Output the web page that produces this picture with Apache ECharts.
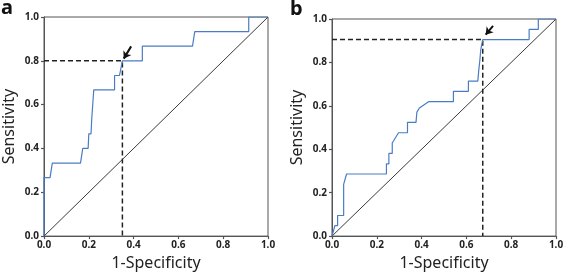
<!DOCTYPE html>
<html>
<head>
<meta charset="utf-8">
<script src="https://cdn.jsdelivr.net/npm/echarts@6/dist/echarts.min.js"></script>
<style>
  html, body { margin: 0; padding: 0; background: #fff; }
  #chart { width: 567px; height: 276px; }
</style>
</head>
<body>
<div id="chart"></div>
<script>
var chart = echarts.init(document.getElementById('chart'))

// ROC curve a: [1-specificity, sensitivity]
var rocA = [
  [0, 0], [0, 0.267], [0.027, 0.267], [0.037, 0.333], [0.163, 0.333], [0.173, 0.4],
  [0.197, 0.4], [0.2, 0.467], [0.21, 0.467], [0.213, 0.533], [0.218, 0.533],
  [0.222, 0.667], [0.315, 0.667], [0.315, 0.733], [0.337, 0.733], [0.35, 0.8],
  [0.439, 0.8], [0.439, 0.867], [0.663, 0.867], [0.673, 0.933], [0.914, 0.933],
  [0.914, 1], [1, 1]
]
// ROC curve b
var rocB = [
  [0, 0], [0.013, 0.048], [0.025, 0.048], [0.025, 0.095], [0.052, 0.095],
  [0.052, 0.238], [0.065, 0.286], [0.243, 0.286], [0.243, 0.333], [0.254, 0.333],
  [0.254, 0.381], [0.269, 0.381], [0.269, 0.429], [0.297, 0.476], [0.337, 0.476],
  [0.337, 0.524], [0.375, 0.524], [0.379, 0.571], [0.39, 0.59], [0.431, 0.619],
  [0.542, 0.619], [0.542, 0.667], [0.609, 0.667], [0.609, 0.714], [0.651, 0.714],
  [0.655, 0.762], [0.66, 0.81], [0.664, 0.857], [0.668, 0.881], [0.673, 0.905],
  [0.88, 0.905], [0.88, 0.952], [0.921, 0.952], [0.921, 1], [1, 1]
]
var diagonal = [[0, 0], [1, 1]]
// cut-off points
var cutA = [0.35, 0.8]
var cutB = [0.673, 0.905]
// arrows pointing at the cut-off [tail, tip]
var arrowA = [[0.389, 0.866], [0.356, 0.81]]
var arrowB = [[0.719, 0.968], [0.686, 0.928]]
var panelLabels = ['a', 'b']
var xName = '1-Specificity'
var yName = 'Sensitivity'

var tickFont = { fontFamily: 'Noto Sans', fontWeight: 'bold', fontSize: 10, color: '#222' }

function makeX(idx) {
  return {
    gridIndex: idx, type: 'value', min: 0, max: 1, interval: 0.2,
    name: xName, nameLocation: 'middle', nameGap: 14,
    nameTextStyle: { fontFamily: 'Noto Sans', fontSize: 16, color: '#222' },
    axisLine: { lineStyle: { color: '#555', width: 1 } },
    axisTick: { length: 3, lineStyle: { color: '#555', width: 1.2 } },
    axisLabel: Object.assign({ margin: 4, formatter: function (v) { return v.toFixed(1) } }, tickFont),
    splitLine: { show: false }
  }
}
function makeY(idx) {
  return {
    gridIndex: idx, type: 'value', min: 0, max: 1, interval: 0.2,
    name: yName, nameLocation: 'middle', nameGap: 27,
    nameTextStyle: { fontFamily: 'Noto Sans', fontSize: 16, color: '#222' },
    axisLine: { lineStyle: { color: '#555', width: 1 } },
    axisTick: { length: 3, lineStyle: { color: '#555', width: 1.2 } },
    axisLabel: Object.assign({ margin: 5, formatter: function (v) { return v.toFixed(1) } }, tickFont),
    splitLine: { show: false }
  }
}
function dashed(idx, cut) {
  return {
    type: 'line', xAxisIndex: idx, yAxisIndex: idx, symbol: 'none', silent: true,
    lineStyle: { color: '#222', width: 1.5, type: [5, 3] },
    data: [[0, cut[1]], [cut[0], cut[1]], [cut[0], 0]]
  }
}
function curve(idx, d) {
  return {
    type: 'line', xAxisIndex: idx, yAxisIndex: idx, symbol: 'none', silent: true, z: 4,
    lineStyle: { color: '#4a7cc4', width: 1.2 },
    data: d
  }
}
function diag(idx) {
  return {
    type: 'line', xAxisIndex: idx, yAxisIndex: idx, symbol: 'none', silent: true,
    lineStyle: { color: '#222', width: 0.9 },
    data: diagonal
  }
}
function arrow(idx, a) {
  return {
    type: 'lines', coordinateSystem: 'cartesian2d', xAxisIndex: idx, yAxisIndex: idx,
    symbol: ['none', 'arrow'], symbolSize: 7, silent: true, z: 5,
    lineStyle: { color: '#111', width: 2, opacity: 1 },
    data: [{ coords: a }]
  }
}

var option = {
  animation: false,
  backgroundColor: '#fff',
  grid: [
    { left: 43, top: 17, width: 225, height: 226, show: true, borderColor: '#555', borderWidth: 1 },
    { left: 332, top: 19, width: 224, height: 225, show: true, borderColor: '#555', borderWidth: 1 }
  ],
  xAxis: [makeX(0), makeX(1)],
  yAxis: [makeY(0), makeY(1)],
  graphic: [
    { type: 'text', left: 1, top: -2, style: { text: panelLabels[0], font: 'bold 20px "Noto Sans"', fill: '#111' } },
    { type: 'text', left: 290, top: -1, style: { text: panelLabels[1], font: 'bold 20px "Noto Sans"', fill: '#111' } }
  ],
  series: [
    diag(0), dashed(0, cutA), curve(0, rocA), arrow(0, arrowA),
    diag(1), dashed(1, cutB), curve(1, rocB), arrow(1, arrowB)
  ]
}
chart.setOption(option)
</script>
</body>
</html>
